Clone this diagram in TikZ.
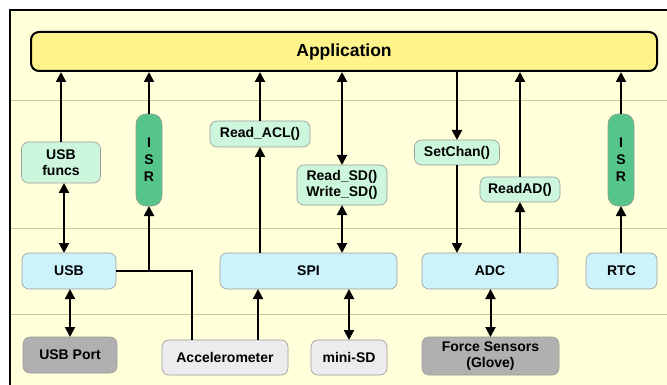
\documentclass[tikz,border=0pt]{standalone}
\usepackage{fontspec}
\setmainfont{Liberation Sans}
\usetikzlibrary{arrows.meta}
\definecolor{bg}{HTML}{FFFFDA}
\definecolor{appfill}{HTML}{FFF38C}
\definecolor{lgreen}{HTML}{CCF7DC}
\definecolor{dgreen}{HTML}{55C58A}
\definecolor{lcyan}{HTML}{CCF3FC}
\definecolor{dgray}{HTML}{B0B0B0}
\definecolor{lgray}{HTML}{ECECEF}
\definecolor{sepcol}{HTML}{C8C3A0}
\definecolor{bordcol}{HTML}{9A9A9A}
\tikzset{
  bx/.style={draw=bordcol, line width=0.6pt, rounded corners=7pt, inner sep=0pt, outer sep=0pt,
    align=center, font=\fontsize{14}{15.5}\selectfont\bfseries},
  fn/.style={bx, fill=lgreen},
  isrbox/.style={bx, fill=dgreen, rounded corners=10pt, font=\fontsize{14}{17}\selectfont\bfseries},
  hw/.style={bx, fill=lcyan},
  dev/.style={bx, fill=lgray},
  devd/.style={bx, fill=dgray},
  arr/.style={line width=2pt, -{Triangle[length=10pt,width=10pt]}},
  darr/.style={line width=2pt, {Triangle[length=10pt,width=10pt]}-{Triangle[length=10pt,width=10pt]}},
  plain/.style={line width=2pt},
}
\begin{document}
\begin{tikzpicture}[x=1pt,y=-1pt]
\useasboundingbox (0,0) rectangle (667,385);
\fill[white] (0,0) rectangle (667,385);
\fill[bg] (10,10) rectangle (667,385);
\draw[line width=2pt] (667,10) -- (10,10) -- (10,385);
\foreach \yy in {100,228,314} \draw[sepcol, line width=0.8pt] (11,\yy) -- (667,\yy);

\node[draw=black, line width=2pt, fill=appfill, rounded corners=8pt, inner sep=0pt,
  minimum width=626pt, minimum height=39pt, font=\fontsize{17.5}{20}\selectfont\bfseries]
  (app) at (344,51.5) {Application};

\node[fn, minimum width=79pt, minimum height=41pt] (usbf) at (61,162.5) {USB\\funcs};
\node[isrbox, minimum width=26pt, minimum height=92pt] (isrL) at (149,160) {I\\S\\R};
\node[fn, minimum width=100pt, minimum height=26pt] (acl) at (260,134) {Read\_ACL()};
\node[fn, minimum width=90pt, minimum height=40pt] (rsd) at (342,185) {Read\_SD()\\Write\_SD()};
\node[fn, minimum width=85pt, minimum height=25pt] (setc) at (457,152.5) {SetChan()};
\node[fn, minimum width=80pt, minimum height=25pt] (rad) at (520,189.5) {ReadAD()};
\node[isrbox, minimum width=26pt, minimum height=92pt] (isrR) at (621,160) {I\\S\\R};

\node[hw, minimum width=94pt, minimum height=36pt] (usb) at (69,271) {USB};
\node[hw, minimum width=177pt, minimum height=36pt] (spi) at (308.5,271) {SPI};
\node[hw, minimum width=136pt, minimum height=36pt] (adc) at (490,271) {ADC};
\node[hw, minimum width=71pt, minimum height=36pt] (rtc) at (621.5,271) {RTC};

\node[devd, minimum width=94pt, minimum height=36pt] (usbp) at (70,355) {USB Port};
\node[dev, minimum width=126pt, minimum height=35pt] (acc) at (225,357.5) {Accelerometer};
\node[dev, minimum width=76pt, minimum height=35pt] (msd) at (349,357.5) {mini-SD};
\node[devd, minimum width=137pt, minimum height=38pt] (force) at (490.5,356) {Force Sensors\\(Glove)};

% connectors
\draw[arr] (usbf.north) -- (usbf.north |- app.south);
\draw[darr] ([xshift=3pt]usbf.south) -- ([xshift=3pt]usbf.south |- usb.north);
\draw[darr] (usbp.north) -- (usbp.north |- usb.south);
\draw[arr] (isrL.north) -- (isrL.north |- app.south);
\draw[plain] (usb.east) -| ([xshift=-33pt]acc.north);
\draw[arr] (isrL.south |- usb.east) -- (isrL.south);
\draw[arr] ([xshift=33pt]acc.north) -- ([xshift=33pt]acc.north |- spi.south);
\draw[arr] (acl.south |- spi.north) -- (acl.south);
\draw[arr] (acl.north) -- (acl.north |- app.south);
\draw[darr] (rsd.north) -- (rsd.north |- app.south);
\draw[darr] (rsd.south) -- (rsd.south |- spi.north);
\draw[darr] (msd.north) -- (msd.north |- spi.south);
\draw[arr] (setc.north |- app.south) -- (setc.north);
\draw[arr] (setc.south) -- (setc.south |- adc.north);
\draw[arr] (rad.south |- adc.north) -- (rad.south);
\draw[arr] (rad.north) -- (rad.north |- app.south);
\draw[darr] (force.north) -- (force.north |- adc.south);
\draw[arr] (isrR.south |- rtc.north) -- (isrR.south);
\draw[arr] (isrR.north) -- (isrR.north |- app.south);
\end{tikzpicture}
\end{document}
